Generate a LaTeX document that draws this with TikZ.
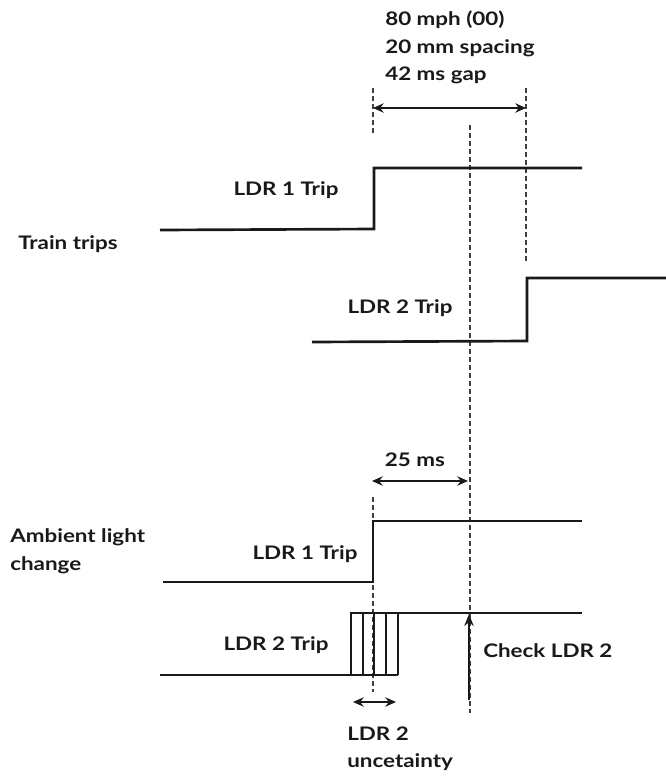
\documentclass[tikz,border=0pt]{standalone}
\usepackage{fontspec}
\setmainfont{Lato}[FakeStretch=1.2]
\usetikzlibrary{arrows.meta}
\begin{document}
\begin{tikzpicture}[x=0.75pt,y=-0.75pt,
  lbl/.style={font=\fontsize{14}{17}\selectfont\bfseries, inner sep=0pt, text=black!90},
  trace/.style={line width=2pt, line join=miter, black!90},
  guide/.style={line width=0.8pt, dash pattern=on 3.5pt off 2.5pt, black!75},
  dim/.style={line width=1.5pt, black!90, {Stealth[length=8pt,width=7pt]}-{Stealth[length=8pt,width=7pt]}},
  up/.style={line width=1.5pt, black!90, -{Stealth[length=9pt,width=7pt]}}]
\useasboundingbox (0,0) rectangle (666,776);

% ---------- texts ----------
\node[lbl, anchor=base west] (t1) at (385,25) {80 mph (00)};
\node[lbl, anchor=base west] (t2) at (385,53) {20 mm spacing};
\node[lbl, anchor=base west] (t3) at (385,80) {42 ms gap};
\node[lbl, anchor=base west] (train) at (18,249) {Train trips};
\node[lbl, anchor=base] (l1a) at (286,195) {LDR 1 Trip};
\node[lbl, anchor=base] (l2a) at (400,313) {LDR 2 Trip};
\node[lbl, anchor=base west] (amb1) at (10,542) {Ambient light};
\node[lbl, anchor=base west] (amb2) at (10,570) {change};
\node[lbl, anchor=base] (ms) at (415,466) {25 ms};
\node[lbl, anchor=base] (l1b) at (305,559) {LDR 1 Trip};
\node[lbl, anchor=base] (l2b) at (276,650) {LDR 2 Trip};
\node[lbl, anchor=base west] (chk) at (483,657) {Check LDR 2};
\node[lbl, anchor=base west] (u1) at (347,740) {LDR 2};
\node[lbl, anchor=base west] (u2) at (347,767) {uncetainty};

% ---------- coordinates ----------
\coordinate (ga1) at (373,88);   \coordinate (ga2) at (373,135);
\coordinate (gb1) at (526,88);   \coordinate (gb2) at (526,262);
\coordinate (gc1) at (470,125);  \coordinate (gc2) at (470,713);
\coordinate (gd1) at (373,497);  \coordinate (gd2) at (373,692);
\coordinate (da1) at (373,108);  \coordinate (da2) at (526,108);
\coordinate (db1) at (372,481);  \coordinate (db2) at (468,481);
\coordinate (dc1) at (353,702);  \coordinate (dc2) at (396,702);
\coordinate (ck1) at (469,700);  \coordinate (ck2) at (469,614);

% top traces
\coordinate (a0) at (160,230); \coordinate (a1) at (374,229);
\coordinate (a2) at (374,168); \coordinate (a3) at (582,168);
\coordinate (b0) at (312,342); \coordinate (b1) at (527,341);
\coordinate (b2) at (527,278); \coordinate (b3) at (666,278);
% bottom traces
\coordinate (c0) at (163,582); \coordinate (c1) at (373,582);
\coordinate (c2) at (373,521); \coordinate (c3) at (582,521);
\coordinate (d0) at (160,675); \coordinate (d1) at (398,675);
\coordinate (d2) at (351,675); \coordinate (d3) at (351,613);
\coordinate (d4) at (582,613);

% ---------- guides ----------
\draw[guide] (ga1) -- (ga2);
\draw[guide] (gb1) -- (gb2);
\draw[guide] (gc1) -- (gc2);
\draw[guide] (gd1) -- (gd2);

% ---------- traces ----------
\draw[trace] (a0) -- (a1) -- (a2) -- (a3);
\draw[trace] (b0) -- (b1) -- (b2) -- (b3);
\draw[trace] (c0) -- (c1) -- (c2) -- (c3);
\draw[trace] (d0) -- (d1);
\draw[trace] (d2) -- (d3) -- (d4);
\foreach \xx in {363,374,386,398} \draw[trace] (\xx,613) -- (\xx,675);

% ---------- dimension arrows ----------
\draw[dim] (da1) -- (da2);
\draw[dim] (db1) -- (db2);
\draw[dim] (dc1) -- (dc2);
\draw[up] (ck1) -- (ck2);
\end{tikzpicture}
\end{document}
